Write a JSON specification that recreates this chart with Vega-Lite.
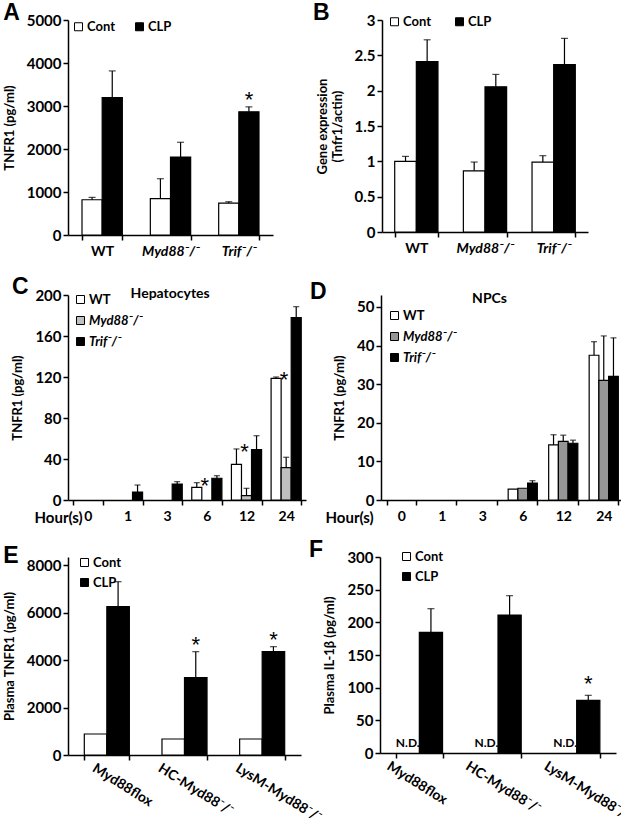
{
"$schema": "https://vega.github.io/schema/vega-lite/v6.json",
"padding": {"left": 3, "top": 2, "right": 2, "bottom": 1},
"config": {
  "font": "Lato",
  "view": {"stroke": null},
  "axis": {"labelFont": "Lato", "labelFontWeight": "bold", "labelFontSize": 14, "labelColor": "black", "titleFont": "Lato", "titleFontWeight": "bold", "titleFontSize": 13, "titleColor": "black", "domainColor": "black", "tickColor": "black", "grid": false, "tickSize": 5, "domainWidth": 1.5, "tickWidth": 1.5, "labelPadding": 2, "titlePadding": 10},
  "axisY": {"format": "~d", "labelFontSize": 15},
  "axisX": {"labelAngle": 0, "labelPadding": 4, "tickBand": "extent"},
  "legend": {"title": null, "orient": "none", "symbolType": "square", "symbolSize": 64, "symbolStrokeColor": "black", "symbolStrokeWidth": 1, "labelFont": "Lato", "labelFontSize": 13, "labelFontWeight": "bold", "labelColor": "black", "labelOffset": 2, "padding": 0},
  "title": {"font": "Liberation Sans", "fontSize": 23, "fontWeight": "bold", "anchor": "start", "frame": "bounds", "color": "black", "offset": -12}
},
"resolve": {"scale": {"x": "independent", "y": "independent", "xOffset": "independent", "fill": "independent"}, "axis": {"x": "independent", "y": "independent"}, "legend": {"fill": "independent"}},
"vconcat": [
{"resolve": {"scale": {"x": "independent", "y": "independent", "xOffset": "independent", "fill": "independent"}, "axis": {"x": "independent", "y": "independent"}, "legend": {"fill": "independent"}},
 "vconcat": [
{"resolve": {"scale": {"x": "independent", "y": "independent", "xOffset": "independent", "fill": "independent"}, "axis": {"x": "independent", "y": "independent"}, "legend": {"fill": "independent"}},
 "hconcat": [
{
 "width": 205, "height": 215,
 "title": {"text": "A"},
 "data": {"values": [
  {"g": "WT", "c": "Cont", "value": 820, "upper": 875},
  {"g": "WT", "c": "CLP", "value": 3197, "upper": 3816},
  {"g": "Myd88⁻/⁻", "c": "Cont", "value": 844, "upper": 1309},
  {"g": "Myd88⁻/⁻", "c": "CLP", "value": 1814, "upper": 2156},
  {"g": "Trif⁻/⁻", "c": "Cont", "value": 743, "upper": 774},
  {"g": "Trif⁻/⁻", "c": "CLP", "value": 2864, "upper": 2980, "sig": "*"}
 ]},
 "encoding": {
  "x": {"field": "g", "type": "nominal", "scale": {"domain": ["WT", "Myd88⁻/⁻", "Trif⁻/⁻"], "paddingInner": 0.41, "paddingOuter": 0.205}, "axis": {"title": null, "labelFontStyle": {"condition": {"test": "datum.value !== 'WT'", "value": "italic"}, "value": "normal"}}},
  "xOffset": {"field": "c", "type": "nominal", "scale": {"domain": ["Cont", "CLP"]}}
 },
 "layer": [
  {"mark": {"type": "bar", "stroke": "black", "strokeWidth": 1.2},
   "encoding": {"y": {"field": "value", "type": "quantitative", "scale": {"domain": [0, 5000]}, "axis": {"values": [0, 1000, 2000, 3000, 4000, 5000], "title": "TNFR1 (pg/ml)"}},
    "fill": {"field": "c", "type": "nominal", "scale": {"domain": ["Cont", "CLP"], "range": ["white", "black"]}, "legend": {"direction": "horizontal", "legendX": 4, "legendY": 0, "columnPadding": 17}}}},
  {"transform": [{"filter": "datum.upper != null"}], "mark": {"type": "rule", "color": "black", "strokeWidth": 1.2},
   "encoding": {"y": {"field": "value", "type": "quantitative", "axis": {"values": [0, 1000, 2000, 3000, 4000, 5000], "title": "TNFR1 (pg/ml)"}}, "y2": {"field": "upper"}}},
  {"transform": [{"filter": "datum.upper != null"}], "mark": {"type": "tick", "color": "black", "thickness": 1.2, "size": 7},
   "encoding": {"y": {"field": "upper", "type": "quantitative", "axis": {"values": [0, 1000, 2000, 3000, 4000, 5000], "title": "TNFR1 (pg/ml)"}}}},
  {"transform": [{"filter": "datum.sig"}], "mark": {"type": "text", "text": "*", "font": "Liberation Sans", "fontSize": 22, "baseline": "alphabetic"},
   "encoding": {"y": {"field": "upper", "type": "quantitative", "axis": {"values": [0, 1000, 2000, 3000, 4000, 5000], "title": "TNFR1 (pg/ml)"}}}}
 ]
},
{
 "width": 206, "height": 212,
 "title": {"text": "B", "dx": -3},
 "data": {"values": [
  {"g": "WT", "c": "Cont", "value": 1.0, "upper": 1.07},
  {"g": "WT", "c": "CLP", "value": 2.41, "upper": 2.72},
  {"g": "Myd88⁻/⁻", "c": "Cont", "value": 0.865, "upper": 0.99},
  {"g": "Myd88⁻/⁻", "c": "CLP", "value": 2.055, "upper": 2.23},
  {"g": "Trif⁻/⁻", "c": "Cont", "value": 0.99, "upper": 1.08},
  {"g": "Trif⁻/⁻", "c": "CLP", "value": 2.37, "upper": 2.74}
 ]},
 "encoding": {
  "x": {"field": "g", "type": "nominal", "scale": {"domain": ["WT", "Myd88⁻/⁻", "Trif⁻/⁻"], "paddingInner": 0.37, "paddingOuter": 0.185}, "axis": {"title": null, "labelFontStyle": {"condition": {"test": "datum.value !== 'WT'", "value": "italic"}, "value": "normal"}}},
  "xOffset": {"field": "c", "type": "nominal", "scale": {"domain": ["Cont", "CLP"]}}
 },
 "layer": [
  {"mark": {"type": "bar", "stroke": "black", "strokeWidth": 1.2},
   "encoding": {"y": {"field": "value", "type": "quantitative", "scale": {"domain": [0, 3]}, "axis": {"values": [0, 0.5, 1, 1.5, 2, 2.5, 3], "format": "~g", "title": ["Gene expression", "(Tnfr1/actin)"]}},
    "fill": {"field": "c", "type": "nominal", "scale": {"domain": ["Cont", "CLP"], "range": ["white", "black"]}, "legend": {"direction": "horizontal", "legendX": 6, "legendY": -5, "columnPadding": 21}}}},
  {"transform": [{"filter": "datum.upper != null"}], "mark": {"type": "rule", "color": "black", "strokeWidth": 1.2},
   "encoding": {"y": {"field": "value", "type": "quantitative", "axis": {"values": [0, 0.5, 1, 1.5, 2, 2.5, 3], "format": "~g", "title": ["Gene expression", "(Tnfr1/actin)"]}}, "y2": {"field": "upper"}}},
  {"transform": [{"filter": "datum.upper != null"}], "mark": {"type": "tick", "color": "black", "thickness": 1.2, "size": 7},
   "encoding": {"y": {"field": "upper", "type": "quantitative", "axis": {"values": [0, 0.5, 1, 1.5, 2, 2.5, 3], "format": "~g", "title": ["Gene expression", "(Tnfr1/actin)"]}}}}
 ]
}
], "spacing": 40},
{"resolve": {"scale": {"x": "independent", "y": "independent", "xOffset": "independent", "fill": "independent"}, "axis": {"x": "independent", "y": "independent"}, "legend": {"fill": "independent"}},
 "hconcat": [
{
 "width": 238, "height": 205,
 "title": {"text": "C"},
 "data": {"values": [
  {"h": "1", "g": "Trif⁻/⁻", "value": 7.8, "upper": 14.6},
  {"h": "3", "g": "Trif⁻/⁻", "value": 15.6, "upper": 17.9},
  {"h": "6", "g": "WT", "value": 12.4, "upper": 16.9, "sig": "*"},
  {"h": "6", "g": "Trif⁻/⁻", "value": 21.2, "upper": 23.7},
  {"h": "12", "g": "WT", "value": 34.8, "upper": 49.8, "sig": "*"},
  {"h": "12", "g": "Myd88⁻/⁻", "value": 4.2, "upper": 11.4},
  {"h": "12", "g": "Trif⁻/⁻", "value": 49.1, "upper": 62.7},
  {"h": "24", "g": "WT", "value": 118.7, "upper": 120, "sig": "*"},
  {"h": "24", "g": "Myd88⁻/⁻", "value": 31.5, "upper": 41.7},
  {"h": "24", "g": "Trif⁻/⁻", "value": 177.9, "upper": 188.6}
 ]},
 "layer": [
  {"mark": {"type": "bar", "stroke": "black", "strokeWidth": 1.2},
   "encoding": {
    "x": {"field": "h", "type": "nominal", "scale": {"domain": ["0", "1", "3", "6", "12", "24"], "paddingInner": 0.24, "paddingOuter": 0.12}, "axis": {"title": "Hour(s)", "titleFontSize": 15, "titleX": -34, "titleY": 10, "titleBaseline": "top", "titleAlign": "left", "titleAngle": 0}},
    "xOffset": {"field": "g", "type": "nominal", "scale": {"domain": ["WT", "Myd88⁻/⁻", "Trif⁻/⁻"]}},
    "y": {"field": "value", "type": "quantitative", "scale": {"domain": [0, 200]}, "axis": {"values": [0, 40, 80, 120, 160, 200], "title": "TNFR1 (pg/ml)"}},
    "fill": {"field": "g", "type": "nominal", "scale": {"domain": ["WT", "Myd88⁻/⁻", "Trif⁻/⁻"], "range": ["white", "#c0c0c0", "black"]}, "legend": {"direction": "vertical", "legendX": 6, "legendY": -2, "rowPadding": 7, "encode": {"labels": {"update": {"fontStyle": {"signal": "datum.label === 'WT' ? 'normal' : 'italic'"}}}}}}}},
  {"transform": [{"filter": "datum.upper != null"}], "mark": {"type": "rule", "color": "black", "strokeWidth": 1.2},
   "encoding": {
    "x": {"field": "h", "type": "nominal"},
    "xOffset": {"field": "g", "type": "nominal"},
    "y": {"field": "value", "type": "quantitative", "axis": {"values": [0, 40, 80, 120, 160, 200], "title": "TNFR1 (pg/ml)"}}, "y2": {"field": "upper"}}},
  {"transform": [{"filter": "datum.upper != null"}], "mark": {"type": "tick", "color": "black", "thickness": 1.2, "size": 6},
   "encoding": {
    "x": {"field": "h", "type": "nominal"},
    "xOffset": {"field": "g", "type": "nominal"},
    "y": {"field": "upper", "type": "quantitative", "axis": {"values": [0, 40, 80, 120, 160, 200], "title": "TNFR1 (pg/ml)"}}}},
  {"transform": [{"filter": "datum.sig"}], "mark": {"type": "text", "text": "*", "font": "Liberation Sans", "fontSize": 22, "baseline": "middle", "dx": 8, "dy": 3},
   "encoding": {
    "x": {"field": "h", "type": "nominal"},
    "xOffset": {"field": "g", "type": "nominal"},
    "y": {"field": "upper", "type": "quantitative", "axis": {"values": [0, 40, 80, 120, 160, 200], "title": "TNFR1 (pg/ml)"}}}},
  {"data": {"values": [{"h": "3", "label": "Hepatocytes"}]},
   "mark": {"type": "text", "font": "Lato", "fontSize": 14, "fontWeight": "bold", "baseline": "middle"},
   "encoding": {
    "x": {"field": "h", "type": "nominal", "bandPosition": 0.6},
    "y": {"datum": 201, "type": "quantitative", "axis": {"values": [0, 40, 80, 120, 160, 200], "title": "TNFR1 (pg/ml)"}},
    "text": {"field": "label"}}}
 ]
},
{
 "width": 243, "height": 205,
 "title": {"text": "D", "dx": -15},
 "data": {"values": [
  {"h": "6", "g": "WT", "value": 2.8},
  {"h": "6", "g": "Myd88⁻/⁻", "value": 3.05},
  {"h": "6", "g": "Trif⁻/⁻", "value": 4.4, "upper": 5.0},
  {"h": "12", "g": "WT", "value": 14.3, "upper": 16.9},
  {"h": "12", "g": "Myd88⁻/⁻", "value": 15.2, "upper": 16.8},
  {"h": "12", "g": "Trif⁻/⁻", "value": 14.7, "upper": 15.5},
  {"h": "24", "g": "WT", "value": 37.5, "upper": 41.0},
  {"h": "24", "g": "Myd88⁻/⁻", "value": 31.0, "upper": 42.5},
  {"h": "24", "g": "Trif⁻/⁻", "value": 32.0, "upper": 42.0}
 ]},
 "layer": [
  {"mark": {"type": "bar", "stroke": "black", "strokeWidth": 1.2},
   "encoding": {
    "x": {"field": "h", "type": "nominal", "scale": {"domain": ["0", "1", "3", "6", "12", "24"], "paddingInner": 0.28, "paddingOuter": 0.14}, "axis": {"title": "Hour(s)", "titleFontSize": 15, "titleX": -56, "titleY": 10, "titleBaseline": "top", "titleAlign": "left", "titleAngle": 0}},
    "xOffset": {"field": "g", "type": "nominal", "scale": {"domain": ["WT", "Myd88⁻/⁻", "Trif⁻/⁻"]}},
    "y": {"field": "value", "type": "quantitative", "scale": {"domain": [0, 53.1], "nice": false}, "axis": {"values": [0, 10, 20, 30, 40, 50], "title": "TNFR1 (pg/ml)"}},
    "fill": {"field": "g", "type": "nominal", "scale": {"domain": ["WT", "Myd88⁻/⁻", "Trif⁻/⁻"], "range": ["white", "#969696", "black"]}, "legend": {"direction": "vertical", "legendX": 7, "legendY": 14, "rowPadding": 7, "encode": {"labels": {"update": {"fontStyle": {"signal": "datum.label === 'WT' ? 'normal' : 'italic'"}}}}}}}},
  {"transform": [{"filter": "datum.upper != null"}], "mark": {"type": "rule", "color": "black", "strokeWidth": 1.2},
   "encoding": {
    "x": {"field": "h", "type": "nominal"},
    "xOffset": {"field": "g", "type": "nominal"},
    "y": {"field": "value", "type": "quantitative", "axis": {"values": [0, 10, 20, 30, 40, 50], "title": "TNFR1 (pg/ml)"}}, "y2": {"field": "upper"}}},
  {"transform": [{"filter": "datum.upper != null"}], "mark": {"type": "tick", "color": "black", "thickness": 1.2, "size": 6},
   "encoding": {
    "x": {"field": "h", "type": "nominal"},
    "xOffset": {"field": "g", "type": "nominal"},
    "y": {"field": "upper", "type": "quantitative", "axis": {"values": [0, 10, 20, 30, 40, 50], "title": "TNFR1 (pg/ml)"}}}},
  {"data": {"values": [{"h": "3", "label": "NPCs"}]},
   "mark": {"type": "text", "font": "Lato", "fontSize": 14, "fontWeight": "bold", "baseline": "middle"},
   "encoding": {
    "x": {"field": "h", "type": "nominal", "bandPosition": 0.75},
    "y": {"datum": 52.1, "type": "quantitative", "axis": {"values": [0, 10, 20, 30, 40, 50], "title": "TNFR1 (pg/ml)"}},
    "text": {"field": "label"}}}
 ]
}
], "spacing": 4}
], "spacing": 17},
{"resolve": {"scale": {"x": "independent", "y": "independent", "xOffset": "independent", "fill": "independent"}, "axis": {"x": "independent", "y": "independent"}, "legend": {"fill": "independent"}},
 "hconcat": [
{
 "width": 233, "height": 198,
 "title": {"text": "E"},
 "data": {"values": [
  {"s": "Myd88flox", "c": "Cont", "value": 884},
  {"s": "Myd88flox", "c": "CLP", "value": 6246, "upper": 7298},
  {"s": "HC-Myd88⁻/⁻", "c": "Cont", "value": 674},
  {"s": "HC-Myd88⁻/⁻", "c": "CLP", "value": 3256, "upper": 4351, "sig": "*"},
  {"s": "LysM-Myd88⁻/⁻", "c": "Cont", "value": 674},
  {"s": "LysM-Myd88⁻/⁻", "c": "CLP", "value": 4351, "upper": 4561, "sig": "*"}
 ]},
 "encoding": {
  "x": {"field": "s", "type": "nominal", "scale": {"domain": ["Myd88flox", "HC-Myd88⁻/⁻", "LysM-Myd88⁻/⁻"], "paddingInner": 0.42, "paddingOuter": 0.21}, "axis": {"title": null, "labelAngle": 32, "labelAlign": "left", "labelBaseline": "top", "labelOffset": {"condition": {"test": "datum.value === 'Myd88flox'", "value": -10}, "value": -22}, "labelPadding": 1}},
  "xOffset": {"field": "c", "type": "nominal", "scale": {"domain": ["Cont", "CLP"]}}
 },
 "layer": [
  {"mark": {"type": "bar", "stroke": "black", "strokeWidth": 1.2},
   "encoding": {"y": {"field": "value", "type": "quantitative", "scale": {"domain": [0, 8337], "nice": false}, "axis": {"values": [0, 2000, 4000, 6000, 8000], "title": "Plasma TNFR1 (pg/ml)"}},
    "fill": {"field": "c", "type": "nominal", "scale": {"domain": ["Cont", "CLP"], "range": ["white", "black"]}, "legend": {"direction": "vertical", "legendX": 10, "legendY": -1, "rowPadding": 6}}}},
  {"transform": [{"filter": "datum.upper != null"}], "mark": {"type": "rule", "color": "black", "strokeWidth": 1.2},
   "encoding": {"y": {"field": "value", "type": "quantitative", "axis": {"values": [0, 2000, 4000, 6000, 8000], "title": "Plasma TNFR1 (pg/ml)"}}, "y2": {"field": "upper"}}},
  {"transform": [{"filter": "datum.upper != null"}], "mark": {"type": "tick", "color": "black", "thickness": 1.2, "size": 7},
   "encoding": {"y": {"field": "upper", "type": "quantitative", "axis": {"values": [0, 2000, 4000, 6000, 8000], "title": "Plasma TNFR1 (pg/ml)"}}}},
  {"transform": [{"filter": "datum.sig"}], "mark": {"type": "text", "text": "*", "font": "Liberation Sans", "fontSize": 22, "baseline": "alphabetic"},
   "encoding": {"y": {"field": "upper", "type": "quantitative", "axis": {"values": [0, 2000, 4000, 6000, 8000], "title": "Plasma TNFR1 (pg/ml)"}}}}
 ]
},
{
 "width": 236, "height": 196,
 "title": {"text": "F", "dx": -15},
 "data": {"values": [
  {"s": "Myd88flox", "c": "Cont", "value": null, "note": "N.D."},
  {"s": "Myd88flox", "c": "CLP", "value": 184.7, "upper": 220.9},
  {"s": "HC-Myd88⁻/⁻", "c": "Cont", "value": null, "note": "N.D."},
  {"s": "HC-Myd88⁻/⁻", "c": "CLP", "value": 211.2, "upper": 240.8},
  {"s": "LysM-Myd88⁻/⁻", "c": "Cont", "value": null, "note": "N.D."},
  {"s": "LysM-Myd88⁻/⁻", "c": "CLP", "value": 80.6, "upper": 88.3, "sig": "*"}
 ]},
 "encoding": {
  "x": {"field": "s", "type": "nominal", "scale": {"domain": ["Myd88flox", "HC-Myd88⁻/⁻", "LysM-Myd88⁻/⁻"], "paddingInner": 0.41, "paddingOuter": 0.205}, "axis": {"title": null, "labelAngle": 32, "labelAlign": "left", "labelBaseline": "top", "labelOffset": -28, "labelPadding": 1}},
  "xOffset": {"field": "c", "type": "nominal", "scale": {"domain": ["Cont", "CLP"]}}
 },
 "layer": [
  {"mark": {"type": "bar", "stroke": "black", "strokeWidth": 1.2},
   "encoding": {"y": {"field": "value", "type": "quantitative", "scale": {"domain": [0, 300]}, "axis": {"values": [0, 50, 100, 150, 200, 250, 300], "title": "Plasma IL-1β (pg/ml)"}},
    "fill": {"field": "c", "type": "nominal", "scale": {"domain": ["Cont", "CLP"], "range": ["white", "black"]}, "legend": {"direction": "vertical", "legendX": 20, "legendY": -7, "rowPadding": 6}}}},
  {"transform": [{"filter": "datum.upper != null"}], "mark": {"type": "rule", "color": "black", "strokeWidth": 1.2},
   "encoding": {"y": {"field": "value", "type": "quantitative", "axis": {"values": [0, 50, 100, 150, 200, 250, 300], "title": "Plasma IL-1β (pg/ml)"}}, "y2": {"field": "upper"}}},
  {"transform": [{"filter": "datum.upper != null"}], "mark": {"type": "tick", "color": "black", "thickness": 1.2, "size": 7},
   "encoding": {"y": {"field": "upper", "type": "quantitative", "axis": {"values": [0, 50, 100, 150, 200, 250, 300], "title": "Plasma IL-1β (pg/ml)"}}}},
  {"transform": [{"filter": "datum.sig"}], "mark": {"type": "text", "text": "*", "font": "Liberation Sans", "fontSize": 22, "baseline": "alphabetic", "dy": -4},
   "encoding": {"y": {"field": "upper", "type": "quantitative", "axis": {"values": [0, 50, 100, 150, 200, 250, 300], "title": "Plasma IL-1β (pg/ml)"}}}},
  {"transform": [{"filter": "datum.note"}], "mark": {"type": "text", "font": "Lato", "fontSize": 12, "fontWeight": "bold", "baseline": "alphabetic", "dy": -6},
   "encoding": {"y": {"datum": 0, "type": "quantitative", "axis": {"values": [0, 50, 100, 150, 200, 250, 300], "title": "Plasma IL-1β (pg/ml)"}}, "text": {"field": "note"}}}
 ]
}
], "spacing": -16}
], "spacing": 14}
